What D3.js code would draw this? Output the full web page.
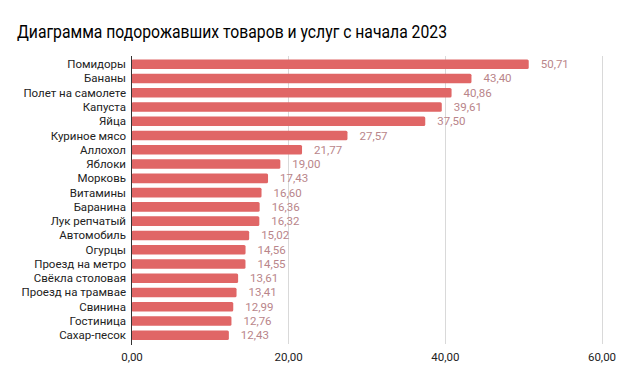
<!DOCTYPE html>
<html><head><meta charset="utf-8">
<script src="https://cdn.jsdelivr.net/npm/d3@7"></script>
<style>body{margin:0;background:#fff}svg{display:block}</style>
</head><body>
<svg id="c" width="620" height="383"></svg>
<script>
const categories = ["Помидоры","Бананы","Полет на самолете","Капуста","Яйца","Куриное мясо","Аллохол","Яблоки","Морковь","Витамины","Баранина","Лук репчатый","Автомобиль","Огурцы","Проезд на метро","Свёкла столовая","Проезд на трамвае","Свинина","Гостиница","Сахар-песок"];
const values = [50.71,43.40,40.86,39.61,37.50,27.57,21.77,19.00,17.43,16.60,16.36,16.32,15.02,14.56,14.55,13.61,13.41,12.99,12.76,12.43];
const xTicks = [0,20,40,60];
const title = "Диаграмма подорожавших товаров и услуг с начала 2023";

const svg = d3.select("#c");
const fmt = v => d3.format(".2f")(v).replace(".", ",");
const x = d3.scaleLinear().domain([0,60]).range([131.5,601.5]);
const y = d3.scaleBand().domain(categories).range([57,342.5]).paddingInner(0.33).paddingOuter(0.17);

const t = svg.append("text").attr("x",17).attr("y",38).attr("font-family","Roboto, sans-serif")
  .attr("font-size",18).attr("fill","#000").text(title);
const tw = t.node().getComputedTextLength();
if (tw > 430) t.attr("textLength",430).attr("lengthAdjust","spacingAndGlyphs");

// grid
svg.append("g").selectAll("line").data(xTicks.slice(1)).join("line")
  .attr("x1",d=>Math.round(x(d))+0.5).attr("x2",d=>Math.round(x(d))+0.5)
  .attr("y1",56).attr("y2",344).attr("stroke","#d9d9d9").attr("stroke-width",1);

// bars
svg.append("g").selectAll("rect").data(values).join("rect")
  .attr("x",x(0)).attr("y",(d,i)=>y(categories[i]))
  .attr("width",d=>x(d)-x(0)).attr("height",y.bandwidth())
  .attr("rx",1.5).attr("fill","#e06666");

// value labels
svg.append("g").selectAll("text").data(values).join("text")
  .attr("x",d=>x(d)+12).attr("y",(d,i)=>y(categories[i])+y.bandwidth()/2+4)
  .attr("font-family","Roboto, sans-serif").attr("font-size",11.5).attr("fill","#b9858a")
  .text(fmt);

// category labels
svg.append("g").selectAll("text").data(categories).join("text")
  .attr("x",126).attr("y",d=>y(d)+y.bandwidth()/2+4).attr("text-anchor","end")
  .attr("font-family","Roboto, sans-serif").attr("font-size",11.5).attr("fill","#222")
  .text(d=>d);

// axis line
svg.append("line").attr("x1",131.5).attr("x2",131.5).attr("y1",56).attr("y2",345)
  .attr("stroke","#333").attr("stroke-width",1);

// x tick labels
const xAxis = d3.axisBottom(x).tickValues(xTicks).tickSize(0).tickFormat(fmt);
const gx = svg.append("g").attr("transform","translate(0,350)").call(xAxis);
gx.select(".domain").remove();
gx.selectAll("text").attr("font-family","Roboto, sans-serif").attr("font-size",11.5).attr("fill","#222");
</script>
</body></html>
